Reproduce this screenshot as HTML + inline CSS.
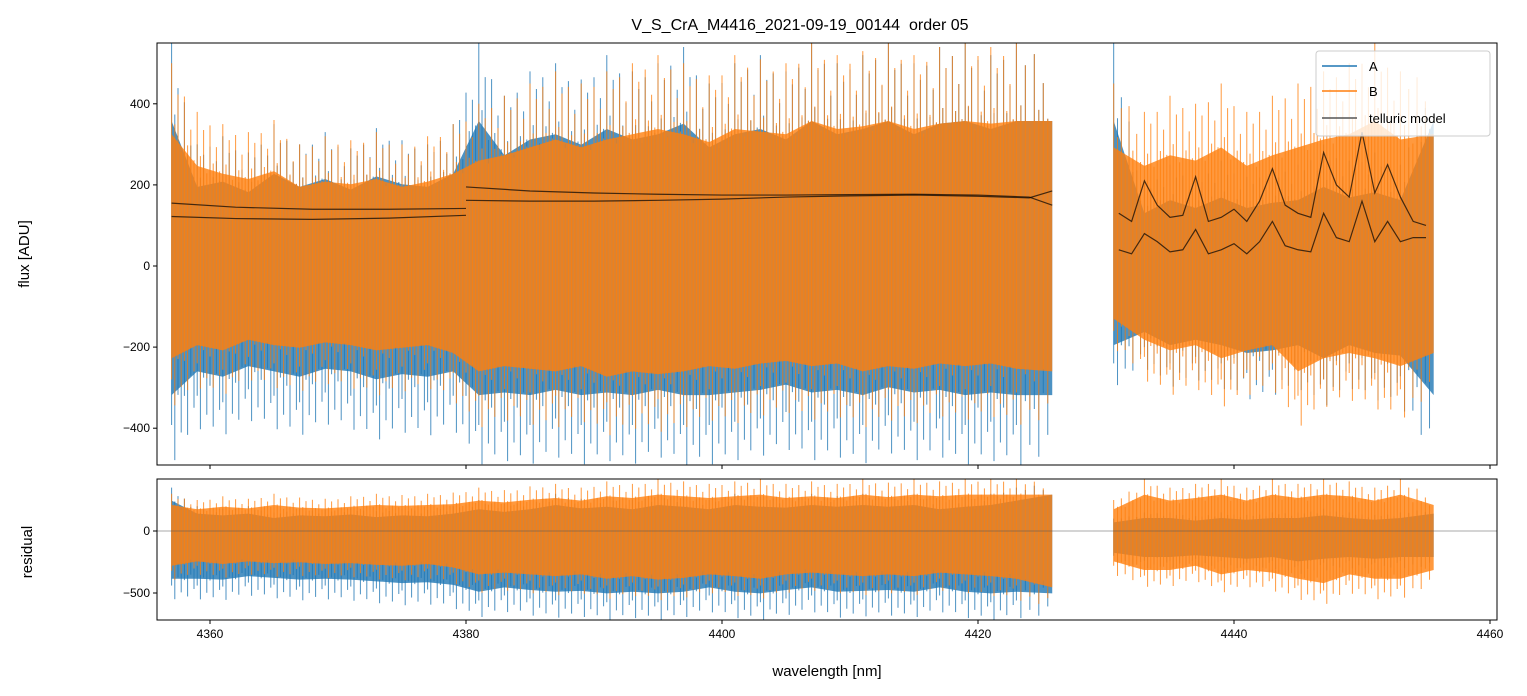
<!DOCTYPE html>
<html><head><meta charset="utf-8"><style>
body{margin:0;background:#fff;}
svg{display:block;font-family:"Liberation Sans","DejaVu Sans",sans-serif;}
</style></head><body>
<svg id="chart" width="1527" height="696" viewBox="0 0 1527 696">
<text x="800" y="30" font-size="16" text-anchor="middle">V_S_CrA_M4416_2021-09-19_00144&#160; order 05</text>
<g id="gtop"></g>
<g id="gbot"></g>
</svg>
<script>
// ---- data ----
const seg1 = [4357,4359,4361,4363,4365,4367,4369,4371,4373,4375,4377,4379,4381,4383,4385,4387,4389,4391,4393,4395,4397,4399,4401,4403,4405,4407,4409,4411,4413,4415,4417,4419,4421,4423,4425.8];
const seg2 = [4430.6,4433,4435,4437,4439,4441,4443,4445,4447,4449,4451,4453,4455.6];
const aUp1 = [550,300,320,280,350,300,330,290,340,310,300,350,550,420,480,500,460,520,480,500,540,450,500,520,480,550,500,520,550,500,540,550,520,550,550];
const aLo1 = [-490,-400,-420,-380,-400,-420,-390,-400,-430,-410,-420,-400,-490,-480,-490,-470,-490,-480,-490,-470,-490,-490,-480,-470,-450,-480,-470,-490,-460,-480,-470,-490,-480,-490,-490];
const bUp1 = [500,380,350,330,360,300,320,310,330,300,320,350,400,420,450,480,450,480,500,520,500,470,520,510,500,550,520,530,550,520,540,550,540,550,550];
const bLo1 = [-350,-300,-320,-280,-300,-310,-290,-300,-320,-310,-300,-330,-400,-380,-390,-400,-380,-420,-400,-410,-400,-380,-390,-370,-360,-380,-370,-400,-380,-390,-370,-380,-370,-390,-400];
const aUp2 = [550,200,250,220,260,220,240,250,300,260,280,250,550];
const aLo2 = [-300,-250,-300,-280,-300,-330,-320,-300,-350,-300,-330,-340,-490];
const bUp2 = [450,380,420,400,450,380,420,450,480,500,550,480,500];
const bLo2 = [-200,-280,-320,-300,-350,-320,-300,-400,-350,-330,-350,-380,-330];
const rAUp1 = [350,200,180,200,150,180,170,190,160,180,170,200,250,220,250,300,260,280,250,300,280,250,300,280,270,300,280,300,280,300,250,280,300,350,419];
const rALo1 = [-550,-550,-560,-520,-540,-560,-550,-560,-580,-600,-590,-620,-700,-650,-680,-700,-690,-718,-700,-718,-700,-650,-700,-718,-680,-650,-700,-690,-680,-700,-650,-700,-718,-700,-718];
const rBUp1 = [300,250,280,260,300,270,260,280,300,290,300,310,350,330,360,380,350,400,380,419,400,380,400,419,380,400,380,419,390,419,400,419,419,419,419];
const rBLo1 = [-400,-350,-380,-350,-370,-360,-380,-370,-390,-400,-380,-420,-500,-480,-500,-520,-500,-550,-520,-560,-540,-500,-520,-550,-500,-480,-500,-520,-500,-520,-480,-500,-520,-550,-650];
const rAUp2 = [100,150,150,120,150,130,150,150,180,150,130,150,200];
const rALo2 = [-250,-300,-300,-280,-300,-320,-300,-350,-320,-300,-320,-300,-300];
const rBUp2 = [250,419,350,380,419,350,419,380,419,400,350,419,300];
const rBLo2 = [-350,-450,-450,-400,-500,-450,-480,-550,-600,-500,-550,-550,-450];
const tw1 = [4357,4362,4368,4374,4380];
const tUp1 = [155,145,140,140,142];
const tLo1 = [122,117,115,118,125];
const tw2 = [4380,4385,4390,4395,4400,4405,4410,4415,4420,4424,4425.8];
const tUp2 = [195,185,180,177,175,175,176,177,175,170,150];
const tLo2 = [162,160,160,162,165,170,173,175,172,168,185];
const tw3 = [4431,4432,4433,4434,4435,4436,4437,4438,4439,4440,4441,4442,4443,4444,4445,4446,4447,4448,4449,4450,4451,4452,4453,4454,4455];
const tUp3 = [130,110,210,150,120,125,220,110,120,140,110,160,240,150,130,120,280,200,170,330,180,250,170,110,100];
const tLo3 = [40,30,80,60,35,40,90,30,40,55,30,60,110,50,40,35,130,70,60,160,60,110,60,70,70];
const xTicks = [4360,4380,4400,4420,4440,4460];
const yTicksTop = [-400,-200,0,200,400];
const yTicksBot = [-500,0];

// ---- axes ----
const NS='http://www.w3.org/2000/svg';
const L=157,R=1497;
const X=v=>210+(v-4360)*12.8;
const Yt=v=>266-v*0.4055;
const Yb=v=>531-v*0.124;
const TT=43,TB=465,BT=479,BB=620;
function mk(tag,attrs,parent){const e=document.createElementNS(NS,tag);for(const k in attrs)e.setAttribute(k,attrs[k]);parent.appendChild(e);return e;}
const gTop=document.getElementById('gtop'),gBot=document.getElementById('gbot');
const defs=mk('defs',{},document.getElementById('chart'));
const c1=mk('clipPath',{id:'ct'},defs);mk('rect',{x:L,y:TT,width:R-L,height:TB-TT},c1);
const c2=mk('clipPath',{id:'cb'},defs);mk('rect',{x:L,y:BT,width:R-L,height:BB-BT},c2);
const gt=mk('g',{'clip-path':'url(#ct)'},gTop),gb=mk('g',{'clip-path':'url(#cb)'},gBot);

// fixed styling pattern for spike lengths (not data)
const spikeU=[1,0.72,0.9,0.62,0.95,0.7,0.82,0.66];
const spikeL=[0.8,1,0.68,0.9,0.72,0.96,0.64,0.85];
function band(g,xs,up,lo,Y,color,core,name){
  let pts=[];
  for(let i=0;i<xs.length;i++)pts.push(X(xs[i])+','+Y(up[i]*core));
  for(let i=xs.length-1;i>=0;i--)pts.push(X(xs[i])+','+Y(lo[i]*core));
  const p=mk('polygon',{points:pts.join(' '),fill:color,'fill-opacity':0.8},g);
  
  
  const n=8;
  for(let i=0;i<xs.length-1;i++){
    for(let k=0;k<n;k++){
      const t=k/n;
      const x=xs[i]+(xs[i+1]-xs[i])*t;
      const u=up[i]+(up[i+1]-up[i])*t, l=lo[i]+(lo[i+1]-lo[i])*t;
      const s=mk('line',{x1:X(x),x2:X(x),y1:Y(u*spikeU[k]),y2:Y(l*spikeL[k]),stroke:color,'stroke-width':1,'stroke-opacity':0.8},g);
      
      
    }
  }
}
function line(g,xs,ys,Y,name){
  const l=mk('polyline',{points:xs.map((x,i)=>X(x)+','+Y(ys[i])).join(' '),fill:'none',stroke:'#000','stroke-opacity':0.7,'stroke-width':1.2},g);
  
  
}
const blue='#1f77b4',orange='#ff7f0e';
band(gt,seg1,aUp1,aLo1,Yt,blue,0.65,'series-a-band');
band(gt,seg2,aUp2,aLo2,Yt,blue,0.65,'series-a-band');
band(gt,seg1,bUp1,bLo1,Yt,orange,0.65,'series-b-band');
band(gt,seg2,bUp2,bLo2,Yt,orange,0.65,'series-b-band');
line(gt,tw1,tUp1,Yt,'telluric-line');line(gt,tw1,tLo1,Yt,'telluric-line');
line(gt,tw2,tUp2,Yt,'telluric-line');line(gt,tw2,tLo2,Yt,'telluric-line');
line(gt,tw3,tUp3,Yt,'telluric-line');line(gt,tw3,tLo3,Yt,'telluric-line');
band(gb,seg1,rAUp1,rALo1,Yb,blue,0.7,'residual-a-band');
band(gb,seg2,rAUp2,rALo2,Yb,blue,0.7,'residual-a-band');
band(gb,seg1,rBUp1,rBLo1,Yb,orange,0.7,'residual-b-band');
band(gb,seg2,rBUp2,rBLo2,Yb,orange,0.7,'residual-b-band');
const zl=mk('line',{x1:L,x2:R,y1:Yb(0),y2:Yb(0),stroke:'#555','stroke-width':0.6},gBot);



[[gTop,TT,TB],[gBot,BT,BB]].forEach(([g,a,b])=>{
  const f=mk('rect',{x:L,y:a,width:R-L,height:b-a,fill:'none',stroke:'#000','stroke-width':1},g);
  
  
  xTicks.forEach(v=>{mk('line',{x1:X(v),x2:X(v),y1:b,y2:b+4,stroke:'#000'},g);});
});
xTicks.forEach(v=>{
  const t=mk('text',{x:X(v),y:BB+18,'font-size':12,'text-anchor':'middle'},gBot);t.textContent=v;
  
  
});
yTicksTop.forEach(v=>{
  mk('line',{x1:L-4,x2:L,y1:Yt(v),y2:Yt(v),stroke:'#000'},gTop);
  const t=mk('text',{x:L-7,y:Yt(v)+4,'font-size':12,'text-anchor':'end'},gTop);t.textContent=v<0?'\u2212'+(-v):v;
  
  
});
yTicksBot.forEach(v=>{
  mk('line',{x1:L-4,x2:L,y1:Yb(v),y2:Yb(v),stroke:'#000'},gBot);
  const t=mk('text',{x:L-7,y:Yb(v)+4,'font-size':12,'text-anchor':'end'},gBot);t.textContent=v<0?'\u2212'+(-v):v;
  
  
});
</script>
<svg style="position:absolute;left:0;top:0" width="1527" height="696">
<text x="0" y="0" transform="translate(29,254) rotate(-90)" font-size="15" text-anchor="middle" font-family="Liberation Sans, sans-serif">flux [ADU]</text>
<text x="0" y="0" transform="translate(32,552) rotate(-90)" font-size="15" text-anchor="middle" font-family="Liberation Sans, sans-serif">residual</text>
<text x="827" y="676" font-size="15" text-anchor="middle" font-family="Liberation Sans, sans-serif">wavelength [nm]</text>
<g font-family="Liberation Sans, sans-serif" font-size="13">
<rect x="1316" y="51" width="174" height="85" rx="3" fill="#fff" fill-opacity="0.8" stroke="#ccc"/>
<line x1="1322" x2="1357" y1="66" y2="66" stroke="#1f77b4" stroke-width="1.5"/>
<text x="1369" y="71">A</text>
<line x1="1322" x2="1357" y1="91" y2="91" stroke="#ff7f0e" stroke-width="1.5"/>
<text x="1369" y="96">B</text>
<line x1="1322" x2="1357" y1="118" y2="118" stroke="#555" stroke-width="1.5"/>
<text x="1369" y="123">telluric model</text>
</g>
</svg>
</body></html>
